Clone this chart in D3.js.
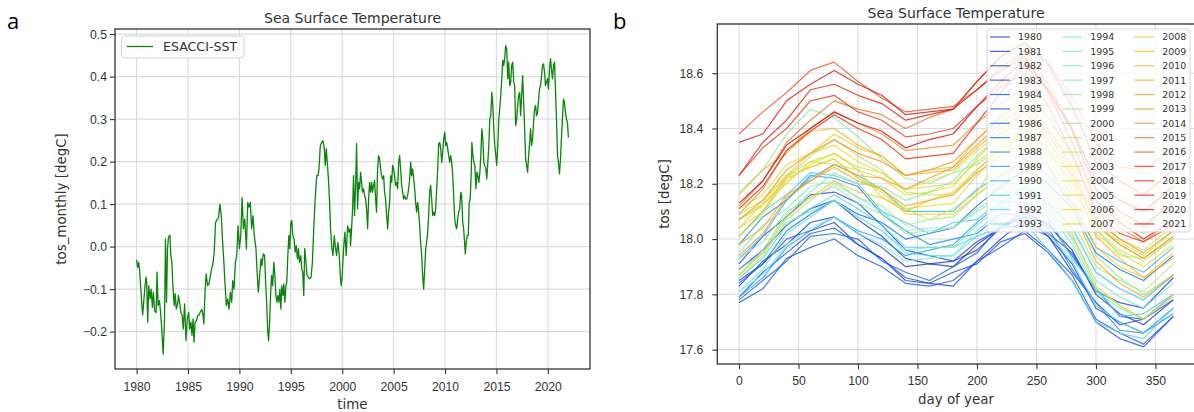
<!DOCTYPE html>
<html>
<head>
<meta charset="utf-8">
<script src="https://cdn.jsdelivr.net/npm/d3@7"></script>
<style>
  body { margin: 0; background: #fff; }
  svg { display: block; font-family: "DejaVu Sans", sans-serif; }
</style>
</head>
<body>
<div id="chart"></div>
<script>
// ---- panel a : monthly anomaly (decimal year, value) ----
var monthTime = [1980.00,1980.10,1980.20,1980.29,1980.39,1980.52,1980.59,1980.69,1980.82,1980.92,1980.98,1981.08,1981.18,1981.31,1981.41,1981.54,1981.63,1981.76,1981.90,1981.99,
1982.09,1982.22,1982.32,1982.45,1982.58,1982.71,1982.81,1982.91,1983.01,1983.10,1983.24,1983.33,1983.43,1983.53,1983.66,1983.76,1983.86,1983.99,1984.08,1984.22,
1984.31,1984.44,1984.54,1984.67,1984.80,1984.93,1985.07,1985.16,1985.29,1985.39,1985.49,1985.59,1985.69,1985.82,1985.95,1986.08,1986.21,1986.34,1986.44,1986.54,
1986.67,1986.76,1986.90,1987.03,1987.16,1987.29,1987.42,1987.55,1987.68,1987.84,1987.97,1988.10,1988.24,1988.37,1988.50,1988.59,1988.73,1988.86,1988.99,1989.12,
1989.25,1989.35,1989.48,1989.61,1989.74,1989.87,1990.00,1990.13,1990.26,1990.39,1990.52,1990.68,1990.81,1990.94,1991.06,1991.19,1991.32,1991.45,1991.61,1991.74,
1991.84,1991.97,1992.10,1992.19,1992.32,1992.45,1992.55,1992.65,1992.74,1992.84,1992.94,1993.03,1993.13,1993.23,1993.35,1993.45,1993.55,1993.65,1993.74,1993.84,
1993.94,1994.03,1994.13,1994.23,1994.32,1994.42,1994.52,1994.61,1994.71,1994.81,1994.90,1995.00,1995.10,1995.19,1995.32,1995.42,1995.52,1995.65,1995.74,1995.84,
1995.97,1996.06,1996.16,1996.26,1996.35,1996.45,1996.58,1996.71,1996.84,1996.97,1997.10,1997.23,1997.35,1997.52,1997.65,1997.74,1997.87,1998.00,1998.13,1998.26,
1998.35,1998.45,1998.55,1998.68,1998.77,1998.87,1999.00,1999.10,1999.23,1999.32,1999.45,1999.58,1999.71,1999.81,1999.90,2000.00,2000.13,2000.26,2000.39,2000.52,
2000.65,2000.77,2000.81,2000.91,2001.01,2001.10,2001.20,2001.30,2001.40,2001.49,2001.59,2001.69,2001.79,2001.88,2001.98,2002.08,2002.18,2002.27,2002.37,2002.47,
2002.57,2002.66,2002.76,2002.86,2002.95,2003.05,2003.15,2003.25,2003.34,2003.44,2003.54,2003.64,2003.73,2003.83,2003.93,2004.03,2004.12,2004.22,2004.32,2004.42,
2004.51,2004.61,2004.71,2004.81,2004.90,2005.00,2005.10,2005.19,2005.29,2005.39,2005.49,2005.58,2005.68,2005.78,2005.88,2005.97,2006.07,2006.17,2006.27,2006.36,
2006.46,2006.56,2006.66,2006.75,2006.85,2006.95,2007.05,2007.14,2007.24,2007.34,2007.44,2007.53,2007.63,2007.73,2007.82,2007.92,2008.02,2008.12,2008.21,2008.31,
2008.41,2008.51,2008.60,2008.70,2008.80,2008.90,2008.99,2009.09,2009.19,2009.29,2009.38,2009.48,2009.58,2009.68,2009.77,2009.87,2009.97,2010.06,2010.16,2010.26,
2010.36,2010.45,2010.55,2010.65,2010.75,2010.84,2010.94,2011.04,2011.14,2011.23,2011.33,2011.43,2011.53,2011.62,2011.72,2011.81,2011.90,2011.97,2012.06,2012.16,
2012.26,2012.35,2012.45,2012.55,2012.61,2012.71,2012.81,2012.90,2013.00,2013.10,2013.19,2013.29,2013.39,2013.48,2013.58,2013.68,2013.77,2013.87,2013.97,2014.06,
2014.16,2014.26,2014.35,2014.45,2014.55,2014.65,2014.74,2014.84,2014.94,2015.03,2015.13,2015.23,2015.32,2015.42,2015.52,2015.61,2015.71,2015.81,2015.90,2016.00,
2016.10,2016.19,2016.29,2016.39,2016.48,2016.58,2016.68,2016.77,2016.87,2016.97,2017.06,2017.16,2017.26,2017.35,2017.45,2017.55,2017.65,2017.74,2017.84,2017.94,
2018.03,2018.13,2018.23,2018.32,2018.42,2018.52,2018.61,2018.71,2018.81,2018.90,2019.00,2019.10,2019.19,2019.29,2019.39,2019.48,2019.58,2019.68,2019.77,2019.87,
2019.97,2020.06,2020.16,2020.26,2020.35,2020.45,2020.55,2020.65,2020.74,2020.84,2020.94,2021.03,2021.13,2021.23,2021.32,2021.42,2021.52,2021.61,2021.71,2021.81,
2021.90,2022.00];

var tosMonthly = [-0.031,-0.049,-0.037,-0.056,-0.092,-0.139,-0.161,-0.131,-0.092,-0.072,-0.084,-0.178,-0.092,-0.123,-0.100,-0.143,-0.107,-0.151,-0.155,-0.060,
-0.139,-0.127,-0.151,-0.194,-0.253,-0.178,0.018,-0.131,-0.005,0.022,0.027,-0.021,-0.037,-0.092,-0.139,-0.111,-0.147,-0.135,-0.115,-0.139,
-0.155,-0.162,-0.194,-0.135,-0.221,-0.170,-0.155,-0.194,-0.178,-0.209,-0.170,-0.225,-0.178,-0.174,-0.162,-0.161,-0.153,-0.148,-0.158,-0.182,
-0.100,-0.064,-0.092,-0.088,-0.072,-0.053,-0.041,-0.013,0.057,0.064,0.067,0.100,0.073,0.010,-0.041,-0.084,-0.139,-0.123,-0.147,-0.107,
-0.131,-0.080,-0.100,-0.037,-0.021,0.049,-0.005,0.026,0.116,0.042,0.065,-0.005,0.104,0.093,0.104,0.042,0.073,0.026,-0.005,-0.068,
-0.107,-0.068,-0.029,-0.045,-0.017,-0.021,-0.084,-0.131,-0.194,-0.221,-0.178,-0.115,-0.068,-0.092,-0.037,-0.068,-0.115,-0.131,-0.115,-0.131,
-0.100,-0.147,-0.092,-0.115,-0.088,-0.131,-0.092,-0.084,-0.021,0.026,-0.005,0.057,0.061,0.026,0.018,-0.013,0.002,-0.029,-0.005,-0.037,
-0.021,-0.053,-0.060,-0.115,-0.005,-0.029,-0.068,-0.072,-0.076,-0.072,-0.037,0.042,0.104,0.167,0.167,0.183,0.238,0.245,0.249,0.230,
0.191,0.230,0.198,0.151,0.104,0.042,-0.005,-0.021,0.026,0.002,-0.021,0.010,-0.021,-0.068,-0.092,-0.068,-0.005,0.034,-0.021,0.049,
0.034,0.042,0.002,0.042,0.089,0.167,0.073,0.144,0.242,0.089,0.151,0.136,0.175,0.151,0.128,0.136,0.120,0.112,0.089,0.042,
0.112,0.151,0.128,0.151,0.128,0.144,0.155,0.112,0.081,0.183,0.214,0.206,0.183,0.167,0.159,0.167,0.128,0.112,0.073,0.042,
0.081,0.104,0.167,0.151,0.191,0.183,0.167,0.144,0.151,0.136,0.198,0.214,0.183,0.144,0.128,0.112,0.120,0.112,0.112,0.120,
0.136,0.159,0.198,0.167,0.183,0.159,0.136,0.104,0.081,0.104,0.081,0.049,0.010,-0.021,-0.068,-0.100,-0.053,-0.005,0.010,0.034,
0.073,0.128,0.144,0.112,0.073,0.081,0.073,0.089,0.136,0.183,0.242,0.245,0.230,0.198,0.222,0.253,0.269,0.238,0.245,0.230,
0.214,0.198,0.214,0.198,0.167,0.120,0.065,0.049,0.042,0.065,0.081,0.089,0.128,0.120,0.057,0.042,0.010,-0.017,0.010,0.026,
0.026,0.104,0.112,0.175,0.245,0.214,0.198,0.191,0.136,0.175,0.167,0.151,0.175,0.214,0.277,0.253,0.198,0.191,0.183,0.159,
0.198,0.238,0.300,0.308,0.363,0.332,0.277,0.238,0.214,0.191,0.238,0.300,0.324,0.355,0.395,0.438,0.426,0.445,0.473,0.465,
0.395,0.434,0.379,0.387,0.426,0.434,0.387,0.379,0.285,0.300,0.332,0.355,0.363,0.308,0.355,0.402,0.340,0.277,0.206,0.191,
0.175,0.214,0.245,0.277,0.238,0.253,0.293,0.324,0.332,0.308,0.316,0.347,0.371,0.379,0.402,0.426,0.430,0.410,0.379,0.387,
0.395,0.371,0.418,0.442,0.418,0.395,0.426,0.434,0.371,0.300,0.214,0.198,0.171,0.206,0.253,0.300,0.347,0.340,0.316,0.300,
0.293,0.257];

var yearTicks = [1980, 1985, 1990, 1995, 2000, 2005, 2010, 2015, 2020];
var anomTicks = [-0.2, -0.1, 0.0, 0.1, 0.2, 0.3, 0.4, 0.5];

// ---- panel b : daily climatology per year ----
var dayOfYear = [0, 20, 40, 60, 80, 100, 120, 140, 160, 180, 200, 220, 240, 260, 280, 300, 320, 340, 365];
var dayTicks = [0, 50, 100, 150, 200, 250, 300, 350];
var tosTicks = [17.6, 17.8, 18.0, 18.2, 18.4, 18.6];
var years = [1980,1981,1982,1983,1984,1985,1986,1987,1988,1989,1990,1991,1992,1993,
             1994,1995,1996,1997,1998,1999,2000,2001,2002,2003,2004,2005,2006,2007,
             2008,2009,2010,2011,2012,2013,2014,2015,2016,2017,2018,2019,2020,2021];
var tosDaily = [
 [17.89,17.96,18.05,18.11,18.14,18.07,18.01,17.93,17.91,17.90,17.98,18.04,18.10,18.05,17.96,17.80,17.73,17.69,17.78],
 [17.83,17.92,17.98,18.06,18.08,18.02,17.97,17.90,17.91,17.92,17.96,18.04,18.05,18.01,17.88,17.77,17.69,17.71,17.80],
 [17.85,17.91,18.00,18.03,18.06,17.98,17.93,17.85,17.84,17.83,17.92,18.00,18.07,18.02,17.95,17.81,17.77,17.75,17.86],
 [17.91,18.01,18.08,18.16,18.17,18.13,18.05,17.96,17.94,17.92,17.99,18.04,18.08,18.01,17.91,17.75,17.70,17.66,17.75],
 [17.79,17.88,17.95,18.02,18.04,17.98,17.93,17.86,17.84,17.88,17.91,17.99,18.02,17.95,17.85,17.70,17.64,17.61,17.72],
 [17.77,17.82,17.93,17.97,18.00,17.94,17.90,17.84,17.83,17.85,17.92,17.97,18.03,17.96,17.87,17.71,17.66,17.62,17.72],
 [17.78,17.85,17.92,18.01,18.02,18.00,17.92,17.88,17.85,17.90,17.95,18.05,18.08,18.06,17.94,17.82,17.72,17.71,17.78],
 [17.84,17.91,18.03,18.09,18.14,18.09,18.06,18.00,18.02,18.04,18.12,18.19,18.25,18.20,18.11,17.95,17.89,17.85,17.94],
 [17.98,18.08,18.14,18.23,18.22,18.19,18.09,18.03,17.98,18.00,18.02,18.09,18.09,18.04,17.89,17.77,17.67,17.66,17.73],
 [17.79,17.86,17.97,18.03,18.08,18.03,18.00,17.94,17.96,17.98,18.06,18.13,18.19,18.13,18.04,17.88,17.82,17.78,17.87],
 [17.93,18.01,18.14,18.22,18.27,18.23,18.18,18.10,18.10,18.10,18.18,18.23,18.29,18.23,18.13,17.97,17.92,17.88,17.97],
 [18.01,18.10,18.16,18.24,18.23,18.20,18.10,18.06,18.02,18.06,18.07,18.14,18.13,18.08,17.93,17.82,17.72,17.73,17.80],
 [17.86,17.93,18.05,18.11,18.16,18.11,18.05,17.97,17.97,17.97,18.01,18.04,18.06,17.96,17.85,17.70,17.66,17.64,17.75],
 [17.81,17.89,18.02,18.08,18.14,18.08,18.03,17.95,17.94,17.94,18.01,18.05,18.10,18.02,17.92,17.76,17.70,17.66,17.75],
 [17.81,17.87,17.98,18.04,18.08,18.02,17.98,17.92,17.93,17.94,18.03,18.10,18.17,18.13,18.04,17.88,17.82,17.78,17.87],
 [17.95,18.05,18.11,18.19,18.21,18.15,18.10,18.03,18.04,18.04,18.10,18.15,18.19,18.11,18.01,17.85,17.79,17.75,17.84],
 [17.89,17.95,18.06,18.10,18.14,18.08,18.03,17.96,17.97,17.97,18.05,18.12,18.18,18.10,17.98,17.81,17.75,17.71,17.80],
 [17.87,17.96,18.09,18.17,18.24,18.20,18.19,18.14,18.17,18.21,18.30,18.38,18.46,18.39,18.29,18.12,18.06,18.02,18.12],
 [18.17,18.25,18.38,18.47,18.44,18.37,18.29,18.22,18.20,18.24,18.27,18.33,18.37,18.27,18.13,17.94,17.86,17.80,17.87],
 [17.93,17.99,18.10,18.15,18.19,18.13,18.09,18.02,18.03,18.04,18.11,18.16,18.21,18.12,18.00,17.82,17.76,17.71,17.80],
 [17.86,17.94,18.07,18.14,18.20,18.15,18.12,18.05,18.07,18.08,18.16,18.22,18.27,18.19,18.07,17.90,17.85,17.81,17.91],
 [18.01,18.09,18.22,18.30,18.36,18.30,18.25,18.17,18.16,18.16,18.25,18.32,18.39,18.32,18.21,18.03,17.96,17.92,18.00],
 [18.04,18.13,18.20,18.28,18.27,18.25,18.15,18.11,18.07,18.11,18.17,18.30,18.34,18.32,18.18,18.04,17.94,17.93,18.00],
 [18.07,18.13,18.23,18.28,18.31,18.26,18.24,18.18,18.21,18.24,18.32,18.38,18.43,18.35,18.23,18.05,17.99,17.94,18.03],
 [18.09,18.14,18.23,18.26,18.29,18.22,18.18,18.11,18.12,18.13,18.23,18.31,18.39,18.33,18.23,18.06,18.00,17.96,18.05],
 [18.11,18.16,18.27,18.31,18.34,18.28,18.24,18.18,18.19,18.20,18.28,18.34,18.40,18.32,18.20,18.02,17.95,17.90,17.98],
 [18.04,18.10,18.21,18.27,18.31,18.25,18.22,18.16,18.17,18.19,18.29,18.38,18.46,18.38,18.25,18.06,17.98,17.93,18.01],
 [18.07,18.12,18.22,18.26,18.29,18.22,18.17,18.09,18.09,18.09,18.16,18.23,18.28,18.17,18.02,17.83,17.76,17.71,17.79],
 [17.87,17.95,18.08,18.15,18.21,18.17,18.15,18.10,18.14,18.17,18.25,18.33,18.39,18.29,18.15,17.97,17.90,17.86,17.95],
 [18.01,18.10,18.23,18.31,18.38,18.33,18.30,18.23,18.25,18.26,18.36,18.44,18.52,18.44,18.31,18.14,18.07,18.04,18.14],
 [18.16,18.25,18.31,18.39,18.40,18.34,18.30,18.23,18.24,18.25,18.33,18.40,18.46,18.36,18.22,18.01,17.93,17.86,17.93],
 [17.98,18.04,18.16,18.21,18.26,18.21,18.18,18.12,18.14,18.16,18.24,18.30,18.36,18.26,18.11,17.92,17.84,17.79,17.87],
 [17.94,18.02,18.15,18.21,18.27,18.23,18.22,18.18,18.22,18.26,18.34,18.42,18.48,18.38,18.24,18.05,17.98,17.93,18.01],
 [18.07,18.14,18.25,18.31,18.36,18.31,18.28,18.23,18.25,18.28,18.36,18.44,18.50,18.40,18.26,18.07,18.00,17.95,18.03],
 [18.09,18.18,18.32,18.40,18.46,18.42,18.38,18.32,18.33,18.34,18.42,18.49,18.55,18.44,18.30,18.11,18.04,17.99,18.07],
 [18.12,18.21,18.35,18.43,18.50,18.47,18.45,18.40,18.44,18.47,18.57,18.66,18.71,18.64,18.51,18.35,18.26,18.25,18.33],
 [18.38,18.46,18.53,18.61,18.64,18.57,18.51,18.46,18.47,18.48,18.54,18.62,18.68,18.56,18.40,18.21,18.14,18.10,18.19],
 [18.23,18.33,18.40,18.50,18.52,18.46,18.43,18.37,18.38,18.40,18.48,18.55,18.60,18.48,18.31,18.10,18.02,17.99,18.05],
 [18.11,18.19,18.32,18.39,18.45,18.40,18.36,18.29,18.30,18.31,18.42,18.53,18.63,18.54,18.40,18.21,18.14,18.10,18.19],
 [18.23,18.35,18.43,18.54,18.56,18.52,18.49,18.43,18.45,18.47,18.57,18.66,18.71,18.63,18.48,18.28,18.21,18.16,18.25],
 [18.35,18.38,18.50,18.56,18.61,18.56,18.52,18.45,18.46,18.47,18.54,18.61,18.66,18.53,18.35,18.14,18.06,18.00,18.07],
 [18.13,18.21,18.34,18.40,18.46,18.42,18.39,18.33,18.36,18.38,18.48,18.57,18.65,18.54,18.39,18.18,18.10,18.05,18.13]
];

var W = 1194, H = 412;
var ink = "#333", gridCol = "#dcdcdc";

var svg = d3.select("#chart").append("svg")
    .attr("width", W).attr("height", H);
svg.append("rect").attr("width", W).attr("height", H).attr("fill", "#fff");

function styleAxis(g, size) {
    g.select(".domain").remove();
    g.selectAll(".tick line").attr("stroke", ink).attr("stroke-width", 1.1);
    g.selectAll(".tick text").attr("fill", ink).style("font-size", size + "px");
}

// ================= panel a =================
var xA = d3.scaleLinear().domain([1977.9, 2024.1]).range([115, 590]);
var yA = d3.scaleLinear().domain([-0.288, 0.512]).range([369, 29]);

var gA = svg.append("g");
gA.selectAll(".gx").data(yearTicks).enter().append("line")
    .attr("x1", d => xA(d)).attr("x2", d => xA(d)).attr("y1", 29).attr("y2", 369)
    .attr("stroke", gridCol).attr("stroke-width", 1.1);
gA.selectAll(".gy").data(anomTicks).enter().append("line")
    .attr("x1", 115).attr("x2", 590).attr("y1", d => yA(d)).attr("y2", d => yA(d))
    .attr("stroke", gridCol).attr("stroke-width", 1.1);

var lineA = d3.line().x((d, i) => xA(monthTime[i])).y(d => yA(d));
gA.append("path").datum(tosMonthly)
    .attr("d", lineA).attr("fill", "none")
    .attr("stroke", "#0a850a").attr("stroke-width", 1.3).attr("stroke-linejoin", "round");

gA.append("rect").attr("x", 115).attr("y", 29).attr("width", 475).attr("height", 340)
    .attr("fill", "none").attr("stroke", ink).attr("stroke-width", 1.3);

gA.append("g").attr("transform", "translate(0,369)")
    .call(d3.axisBottom(xA).tickValues(yearTicks).tickFormat(d3.format("d")).tickSize(5).tickPadding(8))
    .call(g => styleAxis(g, 12.2));
gA.append("g").attr("transform", "translate(115,0)")
    .call(d3.axisLeft(yA).tickValues(anomTicks).tickFormat(d3.format(".1f")).tickSize(5).tickPadding(3))
    .call(g => styleAxis(g, 12.2));

// legend a
gA.append("rect").attr("x", 121.5).attr("y", 36).attr("width", 122.5).attr("height", 22).attr("rx", 3)
    .attr("fill", "#fff").attr("fill-opacity", 0.8).attr("stroke", "#d4d4d4");
gA.append("line").attr("x1", 127).attr("x2", 153).attr("y1", 46.5).attr("y2", 46.5)
    .attr("stroke", "#0a850a").attr("stroke-width", 1.3);
gA.append("text").attr("x", 163).attr("y", 51).attr("fill", ink)
    .style("font-size", "12.6px").text("ESACCI-SST");

gA.append("text").attr("x", 352.5).attr("y", 23).attr("text-anchor", "middle")
    .attr("fill", ink).style("font-size", "14px").text("Sea Surface Temperature");
gA.append("text").attr("x", 352.5).attr("y", 409).attr("text-anchor", "middle")
    .attr("fill", ink).style("font-size", "13.4px").text("time");
gA.append("text").attr("transform", "translate(66,199) rotate(-90)").attr("text-anchor", "middle")
    .attr("fill", ink).style("font-size", "13.4px").text("tos_monthly [degC]");

// ================= panel b =================
var xB = d3.scaleLinear().domain([-18.25, 383.25]).range([717.3, 1195]);
var yB = d3.scaleLinear().domain([17.548, 18.778]).range([364, 24]);

var color = d3.scaleLinear()
    .domain([1980, 1984, 1987, 1990, 1994, 1997, 2000, 2003, 2006, 2009, 2011, 2014, 2017, 2021])
    .range(["#1d31ce", "#1a4ee8", "#0b6fec", "#31baec", "#74ecea", "#80e8b0", "#a6e788",
            "#d0e450", "#ecd824", "#f8c020", "#f6a61a", "#f08830", "#e63818", "#d80900"])
    .interpolate(d3.interpolateRgb);

var gB = svg.append("g");
gB.selectAll(".gx").data(dayTicks).enter().append("line")
    .attr("x1", d => xB(d)).attr("x2", d => xB(d)).attr("y1", 24).attr("y2", 364)
    .attr("stroke", gridCol).attr("stroke-width", 1.1);
gB.selectAll(".gy").data(tosTicks).enter().append("line")
    .attr("x1", 717.3).attr("x2", 1195).attr("y1", d => yB(d)).attr("y2", d => yB(d))
    .attr("stroke", gridCol).attr("stroke-width", 1.1);

var lineB = d3.line().x((d, i) => xB(dayOfYear[i])).y(d => yB(d));
gB.selectAll(".yr").data(tosDaily).enter().append("path")
    .attr("d", lineB).attr("fill", "none")
    .attr("stroke", (d, i) => color(years[i]))
    .attr("stroke-opacity", 0.8).attr("stroke-width", 1.2).attr("stroke-linejoin", "round");

gB.append("rect").attr("x", 717.3).attr("y", 24).attr("width", 477.7).attr("height", 340)
    .attr("fill", "none").attr("stroke", ink).attr("stroke-width", 1.3);

gB.append("g").attr("transform", "translate(0,364)")
    .call(d3.axisBottom(xB).tickValues(dayTicks).tickFormat(d3.format("d")).tickSize(5).tickPadding(7.5))
    .call(g => styleAxis(g, 12.2));
gB.append("g").attr("transform", "translate(717.3,0)")
    .call(d3.axisLeft(yB).tickValues(tosTicks).tickFormat(d3.format(".1f")).tickSize(5).tickPadding(9))
    .call(g => styleAxis(g, 12.2));

// legend b
var legB = gB.append("g");
legB.append("rect").attr("x", 987).attr("y", 29).attr("width", 203).attr("height", 203).attr("rx", 3)
    .attr("fill", "#fff").attr("fill-opacity", 0.8).attr("stroke", "#d4d4d4");
var colX = [990, 1062.3, 1134.3];
years.forEach(function(yr, i) {
    var c = Math.floor(i / 14), r = i % 14;
    var ly = 37 + r * 14.38;
    legB.append("line").attr("x1", colX[c]).attr("x2", colX[c] + 20).attr("y1", ly).attr("y2", ly)
        .attr("stroke", color(yr)).attr("stroke-opacity", 0.8).attr("stroke-width", 1.2);
    legB.append("text").attr("x", colX[c] + 28).attr("y", ly + 3.4)
        .attr("fill", ink).style("font-size", "9.4px").text(yr);
});

gB.append("text").attr("x", 956).attr("y", 17.5).attr("text-anchor", "middle")
    .attr("fill", ink).style("font-size", "14px").text("Sea Surface Temperature");
gB.append("text").attr("x", 956).attr("y", 403.5).attr("text-anchor", "middle")
    .attr("fill", ink).style("font-size", "13.4px").text("day of year");
gB.append("text").attr("transform", "translate(669,194) rotate(-90)").attr("text-anchor", "middle")
    .attr("fill", ink).style("font-size", "13.4px").text("tos [degC]");

// panel letters
svg.append("text").attr("x", 7).attr("y", 29).attr("fill", "#000")
    .style("font-family", "'Open Sans', 'Liberation Sans', sans-serif").style("font-size", "22px").text("a");
svg.append("text").attr("x", 613).attr("y", 29).attr("fill", "#000")
    .style("font-family", "'Open Sans', 'Liberation Sans', sans-serif").style("font-size", "22px").text("b");
</script>
</body>
</html>
